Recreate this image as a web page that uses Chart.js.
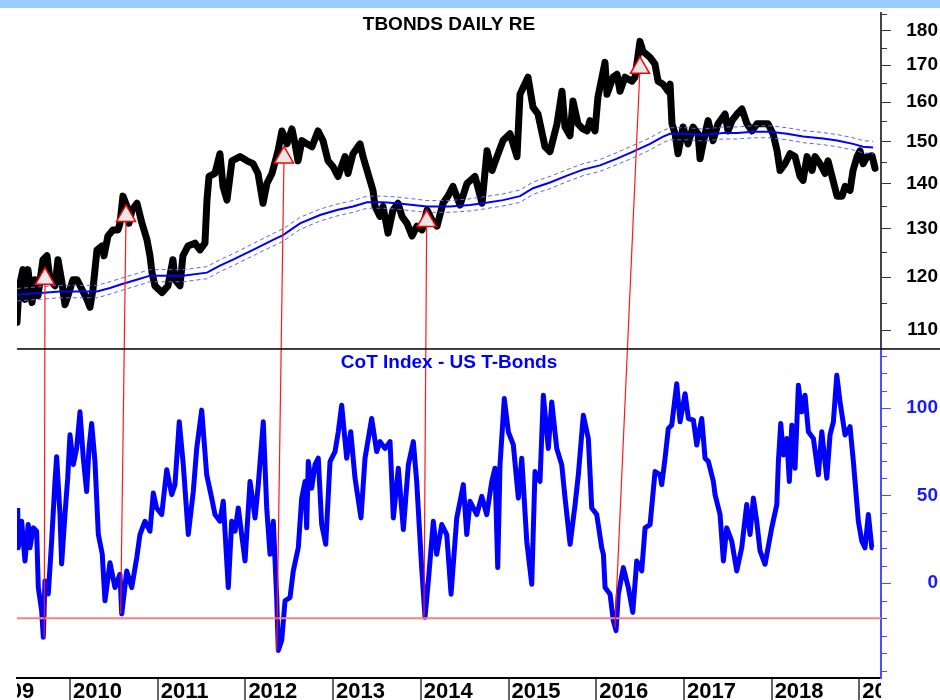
<!DOCTYPE html>
<html>
<head>
<meta charset="utf-8">
<title>TBONDS daily vs CoT Index</title>
<script src="https://cdn.jsdelivr.net/npm/chart.js@4.4.1/dist/chart.umd.min.js"></script>
<style>
  body { margin: 0; background: #fff; }
  #wrap { width: 940px; height: 700px; }
</style>
</head>
<body>
<div id="wrap"><canvas id="cotChart" width="940" height="700"></canvas></div>
<script>
/* T-Bond daily price (decimal year / price) */
const priceDates = [
  2009.396, 2009.418, 2009.464, 2009.487, 2009.521, 2009.567, 2009.601, 2009.635,
  2009.692, 2009.738, 2009.772, 2009.829, 2009.863, 2009.909, 2009.943, 2009.977,
  2010.034, 2010.080, 2010.137, 2010.194, 2010.228, 2010.262, 2010.308, 2010.365,
  2010.388, 2010.433, 2010.490, 2010.547, 2010.570, 2010.604, 2010.650, 2010.673,
  2010.707, 2010.764, 2010.821, 2010.878, 2010.912, 2010.935, 2010.969, 2011.049,
  2011.117, 2011.174, 2011.197, 2011.254, 2011.288, 2011.345, 2011.425, 2011.482,
  2011.539, 2011.562, 2011.585, 2011.653, 2011.710, 2011.745, 2011.790, 2011.847,
  2011.938, 2012.018, 2012.087, 2012.144, 2012.201, 2012.246, 2012.303, 2012.372,
  2012.417, 2012.474, 2012.531, 2012.566, 2012.600, 2012.645, 2012.702, 2012.759,
  2012.828, 2012.885, 2012.942, 2012.999, 2013.056, 2013.136, 2013.170, 2013.227,
  2013.307, 2013.341, 2013.398, 2013.455, 2013.478, 2013.535, 2013.569, 2013.626,
  2013.683, 2013.740, 2013.786, 2013.843, 2013.900, 2013.957, 2014.014, 2014.071,
  2014.128, 2014.185, 2014.253, 2014.310, 2014.367, 2014.447, 2014.527, 2014.618,
  2014.698, 2014.755, 2014.812, 2014.869, 2014.937, 2015.017, 2015.097, 2015.131,
  2015.222, 2015.279, 2015.336, 2015.416, 2015.473, 2015.553, 2015.610, 2015.644,
  2015.701, 2015.735, 2015.792, 2015.849, 2015.895, 2015.929, 2015.986, 2016.020,
  2016.100, 2016.123, 2016.192, 2016.237, 2016.271, 2016.328, 2016.408, 2016.442,
  2016.499, 2016.534, 2016.613, 2016.670, 2016.705, 2016.762, 2016.819, 2016.842,
  2016.864, 2016.899, 2016.933, 2016.990, 2017.047, 2017.104, 2017.161, 2017.184,
  2017.241, 2017.275, 2017.332, 2017.389, 2017.469, 2017.503, 2017.549, 2017.605,
  2017.662, 2017.719, 2017.776, 2017.834, 2017.891, 2017.959, 2018.016, 2018.062,
  2018.096, 2018.153, 2018.210, 2018.267, 2018.324, 2018.358, 2018.404, 2018.461,
  2018.495, 2018.552, 2018.609, 2018.643, 2018.700, 2018.746, 2018.803, 2018.837,
  2018.894, 2018.928, 2018.974, 2019.008, 2019.043, 2019.088, 2019.145, 2019.179
];
const priceValues = [
  111.4, 117.9, 121.5, 115.7, 121.5, 115.1, 119.5, 116.4,
  123.5, 124.3, 119.5, 118.3, 123.5, 118.9, 114.7, 116.4,
  119.5, 119.5, 117.6, 115.7, 114.2, 117.6, 125.5, 126.3,
  124.3, 128.4, 129.7, 129.7, 131.1, 137.1, 134.8, 131.1,
  134.0, 135.5, 131.1, 127.6, 124.3, 120.9, 118.3, 117.0,
  118.3, 123.5, 119.5, 118.3, 124.3, 126.3, 126.9, 125.5,
  126.9, 136.2, 141.6, 142.3, 147.0, 139.3, 136.2, 145.3,
  146.3, 145.3, 144.6, 142.3, 135.5, 140.0, 142.3, 147.7,
  152.6, 149.4, 153.1, 149.4, 145.3, 150.2, 149.4, 148.7,
  152.6, 150.2, 145.3, 143.9, 141.6, 146.3, 142.3, 147.0,
  149.4, 146.3, 142.3, 138.4, 134.8, 132.6, 134.8, 129.0,
  134.0, 135.5, 132.6, 131.1, 128.4, 130.5, 129.7, 134.0,
  131.8, 130.5, 135.5, 137.1, 139.3, 135.1, 140.0, 141.6,
  135.5, 147.7, 143.0, 146.3, 150.2, 151.9, 146.3, 162.1,
  166.7, 158.7, 156.9, 148.7, 147.5, 154.4, 162.9, 153.6,
  151.4, 160.3, 154.4, 153.1, 152.6, 155.2, 152.6, 161.4,
  170.8, 162.1, 166.7, 167.5, 162.9, 166.7, 165.6, 166.7,
  176.8, 173.9, 172.2, 170.3, 165.6, 164.8, 162.9, 164.8,
  154.4, 151.9, 147.0, 153.6, 149.4, 153.6, 151.9, 145.8,
  151.9, 155.2, 150.2, 154.4, 156.9, 152.6, 155.2, 156.9,
  158.2, 154.4, 152.6, 154.4, 154.4, 154.4, 151.9, 147.7,
  143.0, 144.6, 147.0, 146.3, 141.6, 140.7, 146.3, 143.0,
  146.3, 144.6, 142.3, 145.3, 140.7, 137.1, 137.1, 139.3,
  138.4, 143.0, 146.3, 147.7, 144.6, 146.3, 146.5, 143.5
];

/* moving average and its envelope */
const maDates = [
  2009.396, 2009.886, 2010.308, 2010.456, 2010.604, 2010.798, 2010.912, 2011.288,
  2011.562, 2011.710, 2011.859, 2012.087, 2012.315, 2012.429, 2012.623, 2012.851,
  2013.044, 2013.227, 2013.387, 2013.569, 2013.729, 2013.911, 2014.071, 2014.333,
  2014.561, 2014.709, 2014.937, 2015.131, 2015.279, 2015.473, 2015.667, 2015.849,
  2016.043, 2016.237, 2016.420, 2016.613, 2016.762, 2016.842, 2017.035, 2017.218,
  2017.446, 2017.605, 2017.788, 2017.982, 2018.176, 2018.358, 2018.586, 2018.746,
  2018.928, 2019.043, 2019.157
];
const maValues = [
  116.6, 117.2, 117.2, 117.9, 118.7, 119.7, 120.3, 120.3,
  120.9, 122.3, 123.5, 125.5, 127.6, 128.6, 131.1, 132.9,
  134.0, 134.8, 135.7, 135.7, 135.5, 135.1, 134.8, 134.8,
  135.1, 135.5, 136.2, 137.1, 138.9, 140.2, 141.8, 143.2,
  144.2, 145.8, 147.5, 149.4, 151.2, 151.9, 151.9, 151.6,
  152.1, 152.1, 152.4, 152.4, 151.9, 151.2, 150.7, 150.2,
  149.4, 148.7, 148.5
];
const bandUpper = [
  117.8, 118.4, 118.4, 119.1, 119.9, 120.9, 121.5, 121.5,
  122.1, 123.5, 124.7, 126.8, 128.9, 129.9, 132.4, 134.2,
  135.3, 136.1, 137.1, 137.1, 136.9, 136.5, 136.1, 136.1,
  136.5, 136.9, 137.6, 138.5, 140.3, 141.6, 143.2, 144.6,
  145.6, 147.3, 149.0, 150.9, 152.7, 153.4, 153.4, 153.1,
  153.6, 153.6, 153.9, 153.9, 153.4, 152.7, 152.2, 151.7,
  150.9, 150.2, 150.0
];
const bandLower = [
  115.4, 116.0, 116.0, 116.7, 117.5, 118.5, 119.1, 119.1,
  119.7, 121.1, 122.3, 124.3, 126.3, 127.3, 129.8, 131.6,
  132.7, 133.5, 134.4, 134.4, 134.2, 133.8, 133.5, 133.5,
  133.8, 134.2, 134.9, 135.7, 137.5, 138.8, 140.4, 141.8,
  142.8, 144.4, 146.0, 147.9, 149.7, 150.4, 150.4, 150.1,
  150.6, 150.6, 150.9, 150.9, 150.4, 149.7, 149.2, 148.7,
  147.9, 147.2, 147.0
];

/* CoT index, US T-Bonds */
const cotDates = [
  2009.404, 2009.410, 2009.449, 2009.487, 2009.524, 2009.544, 2009.582, 2009.620,
  2009.639, 2009.677, 2009.696, 2009.715, 2009.753, 2009.791, 2009.829, 2009.848,
  2009.886, 2009.905, 2009.943, 2009.974, 2010.000, 2010.038, 2010.076, 2010.114,
  2010.152, 2010.190, 2010.217, 2010.247, 2010.285, 2010.323, 2010.368, 2010.399,
  2010.456, 2010.513, 2010.570, 2010.590, 2010.647, 2010.704, 2010.761, 2010.798,
  2010.855, 2010.912, 2010.950, 2010.988, 2011.046, 2011.103, 2011.160, 2011.197,
  2011.246, 2011.292, 2011.349, 2011.406, 2011.445, 2011.502, 2011.559, 2011.616,
  2011.653, 2011.710, 2011.748, 2011.805, 2011.844, 2011.882, 2011.919, 2011.996,
  2012.053, 2012.110, 2012.147, 2012.204, 2012.243, 2012.281, 2012.318, 2012.357,
  2012.375, 2012.414, 2012.452, 2012.509, 2012.546, 2012.603, 2012.642, 2012.680,
  2012.699, 2012.717, 2012.756, 2012.794, 2012.831, 2012.870, 2012.916, 2012.965,
  2013.022, 2013.059, 2013.098, 2013.155, 2013.201, 2013.250, 2013.318, 2013.364,
  2013.440, 2013.497, 2013.535, 2013.592, 2013.649, 2013.687, 2013.744, 2013.801,
  2013.858, 2013.915, 2013.953, 2014.010, 2014.048, 2014.086, 2014.143, 2014.181,
  2014.239, 2014.296, 2014.345, 2014.410, 2014.485, 2014.524, 2014.561, 2014.638,
  2014.695, 2014.752, 2014.809, 2014.846, 2014.877, 2014.903, 2014.952, 2014.998,
  2015.055, 2015.112, 2015.151, 2015.208, 2015.265, 2015.302, 2015.359, 2015.397,
  2015.454, 2015.493, 2015.550, 2015.607, 2015.645, 2015.702, 2015.759, 2015.796,
  2015.853, 2015.910, 2015.949, 2016.006, 2016.063, 2016.082, 2016.101, 2016.158,
  2016.195, 2016.226, 2016.252, 2016.309, 2016.366, 2016.417, 2016.462, 2016.519,
  2016.557, 2016.614, 2016.671, 2016.728, 2016.747, 2016.785, 2016.822, 2016.861,
  2016.918, 2016.956, 2017.013, 2017.051, 2017.108, 2017.146, 2017.203, 2017.241,
  2017.279, 2017.336, 2017.355, 2017.412, 2017.450, 2017.488, 2017.545, 2017.602,
  2017.659, 2017.716, 2017.754, 2017.792, 2017.830, 2017.868, 2017.925, 2018.001,
  2018.059, 2018.077, 2018.104, 2018.134, 2018.173, 2018.202, 2018.230, 2018.267,
  2018.305, 2018.344, 2018.381, 2018.419, 2018.476, 2018.533, 2018.572, 2018.629,
  2018.666, 2018.704, 2018.743, 2018.780, 2018.837, 2018.894, 2018.932, 2018.989,
  2019.028, 2019.065, 2019.103, 2019.142, 2019.160
];
const cotValues = [
  43.0, 20.2, 35.4, 12.7, 33.5, 20.2, 31.6, 29.7,
  -2.5, -15.7, -30.9, 1.3, -6.1, 24.0, 58.1, 72.3,
  39.4, 11.0, 39.4, 60.0, 84.8, 67.8, 77.0, 97.9,
  71.4, 52.4, 77.0, 91.3, 69.5, 28.0, 16.6, -10.1,
  11.7, -2.5, 5.1, -17.6, 7.0, -2.5, 14.5, 27.8,
  35.4, 29.7, 51.5, 43.0, 39.2, 64.8, 50.6, 56.3,
  92.2, 67.6, 27.8, 52.4, 77.0, 98.9, 61.9, 48.6,
  39.2, 35.4, 46.8, -2.5, 35.4, 29.7, 43.0, 12.7,
  58.1, 37.3, 56.3, 92.2, 43.0, 16.5, 35.4, -8.2,
  -38.5, -32.8, -10.1, -8.2, 7.0, 20.2, 48.6, 58.1,
  31.6, 69.5, 54.3, 67.8, 71.4, 33.5, 22.2, 69.5,
  75.2, 86.5, 101.7, 71.4, 86.5, 60.0, 37.3, 71.4,
  94.1, 75.2, 80.9, 77.0, 80.9, 37.3, 65.7, 30.7,
  67.6, 80.9, 58.1, 8.9, -19.5, 1.3, 35.4, 16.5,
  33.5, 27.8, -6.3, 37.3, 56.3, 27.8, 46.8, 39.2,
  49.6, 39.2, 58.1, 65.7, 8.9, 67.6, 105.5, 86.5,
  79.0, 48.6, 71.4, 24.0, -0.6, 63.8, 58.1, 107.4,
  77.0, 103.6, 77.0, 67.6, 48.6, 22.2, 44.9, 61.9,
  96.0, 82.7, 43.0, 39.2, 20.2, 16.5, -2.5, -6.3,
  -21.4, -27.1, -6.3, 8.9, -2.5, -16.7, 12.7, 7.0,
  31.6, 33.5, 63.8, 61.9, 56.3, 71.4, 88.4, 90.3,
  114.0, 92.2, 108.3, 94.1, 93.2, 79.0, 94.1, 71.4,
  69.5, 58.1, 50.6, 39.2, 12.7, 31.6, 24.0, 7.0,
  20.2, 44.9, 27.8, 48.6, 35.4, 18.4, 10.8, 31.6,
  44.9, 69.5, 91.3, 73.3, 82.7, 58.1, 90.3, 65.7,
  113.1, 97.9, 107.4, 86.5, 82.7, 61.9, 86.5, 60.0,
  84.7, 92.2, 118.8, 103.6, 84.7, 89.4, 69.5, 35.4,
  24.0, 20.2, 39.2, 20.2, 20.2
];
const cotThreshold = -20;

/* buy signals: triangle on the price, line down to the CoT low */
const signalDates = [2009.715, 2010.639, 2012.440, 2014.067, 2016.499];
const signalPrices = [119.7, 132.7, 146.1, 131.6, 169.3];
const cotLowDates = [2009.707, 2010.578, 2012.357, 2014.036, 2016.214];
const cotLowValues = [-30.9, -17.4, -38.5, -20.1, -25.2];

/* axes */
const yearTicks = [2009, 2010, 2011, 2012, 2013, 2014, 2015, 2016, 2017, 2018, 2019];
const yearLabels = ['2009', '2010', '2011', '2012', '2013', '2014', '2015', '2016', '2017', '2018', '2019'];
const priceTicks = [110, 120, 130, 140, 150, 160, 170, 180];
const priceMinor = [115, 125, 135, 145, 155, 165, 175, 185];
const cotTicks = [0, 50, 100];
const cotMinor = [-50, -40, -30, -20, -10, 10, 20, 30, 40, 60, 70, 80, 90, 110, 120, 130];
const priceTitle = 'TBONDS DAILY RE';
const cotTitle = 'CoT Index - US T-Bonds';

const xMin = 2009.396, xMax = 2019.247;
const TOP_BAR = 8;
const FONT = "'Liberation Sans', Arial, sans-serif";

const toXY = (xs, ys) => xs.map((x, i) => ({x: x, y: ys[i]}));

// no extra room for half labels at the ends of the axes
const noPad = s => { s.paddingTop = 0; s.paddingBottom = 0; s.paddingLeft = 0; s.paddingRight = 0; };

const panelDecor = {
  id: 'panelDecor',
  beforeDraw(chart) {
    const c = chart.ctx;
    c.save();
    c.fillStyle = '#99ccff';
    c.fillRect(0, 0, chart.width, TOP_BAR);
    c.restore();
  },
  beforeDatasetDraw(chart, args) {
    if (args.index !== 0) return;
    const x = chart.scales.x, y1 = chart.scales.y1, y2 = chart.scales.y2;
    const c = chart.ctx;
    c.save();
    c.strokeStyle = '#ff1a1a';
    c.lineWidth = 1.2;
    signalDates.forEach((d, i) => {
      c.beginPath();
      c.moveTo(x.getPixelForValue(d), y1.getPixelForValue(signalPrices[i]));
      c.lineTo(x.getPixelForValue(cotLowDates[i]), y2.getPixelForValue(cotLowValues[i]));
      c.stroke();
    });
    c.restore();
  },
  afterDraw(chart) {
    const c = chart.ctx, area = chart.chartArea;
    const x = chart.scales.x, y1 = chart.scales.y1, y2 = chart.scales.y2;
    c.save();

    // line between the two panels
    c.fillStyle = '#000';
    c.fillRect(area.left, y1.bottom - 1, chart.width - area.left, 1.5);

    // short minor ticks
    const minor = (scale, values, color) => {
      c.strokeStyle = color;
      c.lineWidth = 1;
      values.forEach(v => {
        const py = Math.round(scale.getPixelForValue(v)) + 0.5;
        if (py < scale.top || py > scale.bottom) return;
        c.beginPath();
        c.moveTo(scale.left, py);
        c.lineTo(scale.left + 6, py);
        c.stroke();
      });
    };
    minor(y1, priceMinor, '#333');
    minor(y2, cotMinor, '#4d4dff');

    // panel titles
    const mid = (area.left + area.right) / 2;
    c.font = 'bold 19px ' + FONT;
    c.textAlign = 'center';
    c.textBaseline = 'middle';
    c.fillStyle = '#000';
    c.fillText(priceTitle, mid, y1.top + 12);
    c.fillStyle = '#0000ff';
    c.fillText(cotTitle, mid, y2.top + 14);

    // year labels, cut at the plot edges
    c.beginPath();
    c.rect(area.left, x.top, area.right - area.left, x.bottom - x.top);
    c.clip();
    c.font = 'bold 22px ' + FONT;
    c.textAlign = 'left';
    c.textBaseline = 'alphabetic';
    c.fillStyle = '#000';
    yearLabels.forEach((lbl, i) => {
      c.fillText(lbl, x.getPixelForValue(yearTicks[i]) + 3, x.bottom - 2);
    });
    c.restore();
  }
};

const ctx = document.getElementById('cotChart').getContext('2d');

new Chart(ctx, {
  type: 'line',
  data: {
    datasets: [
      {
        label: 'signals',
        data: toXY(signalDates, signalPrices),
        yAxisID: 'y1',
        showLine: false,
        pointStyle: 'triangle',
        pointRadius: 11,
        pointBackgroundColor: '#e8e8e8',
        pointBorderColor: '#ff0000',
        pointBorderWidth: 1.5,
        order: 0
      },
      {
        label: 'threshold',
        data: [{x: xMin, y: cotThreshold}, {x: xMax, y: cotThreshold}],
        yAxisID: 'y2',
        borderColor: '#ff8080',
        borderWidth: 2,
        pointRadius: 0,
        order: 1
      },
      {
        label: 'CoT Index',
        data: toXY(cotDates, cotValues),
        yAxisID: 'y2',
        borderColor: '#0000ff',
        borderWidth: 5,
        pointRadius: 0,
        borderJoinStyle: 'round',
        order: 2
      },
      {
        label: 'MA',
        data: toXY(maDates, maValues),
        yAxisID: 'y1',
        borderColor: '#0000ff',
        borderWidth: 2,
        pointRadius: 0,
        order: 3
      },
      {
        label: 'upper',
        data: toXY(maDates, bandUpper),
        yAxisID: 'y1',
        borderColor: '#6060ff',
        borderWidth: 1,
        borderDash: [4, 3],
        pointRadius: 0,
        order: 4
      },
      {
        label: 'lower',
        data: toXY(maDates, bandLower),
        yAxisID: 'y1',
        borderColor: '#6060ff',
        borderWidth: 1,
        borderDash: [4, 3],
        pointRadius: 0,
        order: 5
      },
      {
        label: 'TBONDS',
        data: toXY(priceDates, priceValues),
        yAxisID: 'y1',
        borderColor: '#000',
        borderWidth: 7,
        pointRadius: 0,
        borderJoinStyle: 'round',
        borderCapStyle: 'round',
        order: 6
      }
    ]
  },
  options: {
    responsive: false,
    animation: false,
    events: [],
    layout: { padding: { left: 17, top: TOP_BAR, right: 2, bottom: 0 } },
    plugins: { legend: { display: false }, tooltip: { enabled: false } },
    scales: {
      x: {
        type: 'linear',
        min: xMin,
        max: xMax,
        bounds: 'data',
        afterBuildTicks: s => {
          s.ticks = yearTicks.filter(v => v >= s.min && v <= s.max).map(v => ({value: v}));
        },
        afterFit: s => { noPad(s); s.height = 22; },
        ticks: { display: false },
        grid: { drawOnChartArea: false, drawTicks: true, tickLength: 22, color: '#666', lineWidth: 2 },
        border: { color: '#000', width: 2 }
      },
      y1: {
        type: 'logarithmic',
        position: 'right',
        stack: 'panels',
        stackWeight: 339,
        weight: 0,
        min: 106.6,
        max: 185.4,
        bounds: 'data',
        afterBuildTicks: s => { s.ticks = priceTicks.map(v => ({value: v})); },
        afterFit: s => { noPad(s); s.width = 57; },
        ticks: {
          callback: v => String(v),
          autoSkip: false,
          color: '#000',
          crossAlign: 'far',
          padding: 15,
          font: { family: FONT, size: 19, weight: 'bold' }
        },
        grid: { drawOnChartArea: false, tickLength: 10, color: '#333' },
        border: { color: '#444', width: 2 }
      },
      y2: {
        type: 'linear',
        position: 'right',
        stack: 'panels',
        stackWeight: 331,
        weight: 1,
        min: -54.2,
        max: 133.7,
        bounds: 'data',
        afterBuildTicks: s => { s.ticks = cotTicks.map(v => ({value: v})); },
        afterFit: s => { noPad(s); s.width = 57; },
        ticks: {
          callback: v => String(v),
          autoSkip: false,
          color: '#1a1aff',
          crossAlign: 'far',
          padding: 15,
          font: { family: FONT, size: 19, weight: 'bold' }
        },
        grid: { drawOnChartArea: false, tickLength: 10, color: '#4d4dff' },
        border: { color: '#4d4dff', width: 2 }
      }
    }
  },
  plugins: [panelDecor]
});
</script>
</body>
</html>
